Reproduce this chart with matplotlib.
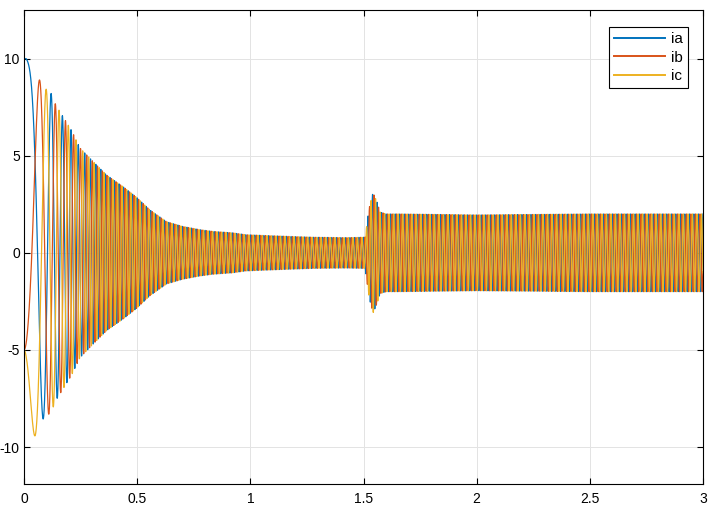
import numpy as np
import matplotlib
matplotlib.use("Agg")
import matplotlib.pyplot as plt

# envelope of the phase currents (time s, peak A)
t_env = [0.0, 0.01, 0.05, 0.08, 0.12, 0.141, 0.21, 0.247, 0.305, 0.365, 0.438,
         0.498, 0.557, 0.63, 0.70, 0.777, 0.835, 0.92, 0.98, 1.13, 1.28, 1.425,
         1.5, 1.507, 1.525, 1.542, 1.56, 1.573, 1.6, 1.65, 2.0, 2.5, 3.0]
amp_env = [10.0, 10.0, 9.4, 8.6, 8.2, 7.6, 6.3, 5.4, 4.7, 4.0, 3.4,
           2.85, 2.2, 1.6, 1.36, 1.19, 1.1, 1.03, 0.93, 0.86, 0.8, 0.78,
           0.8, 0.8, 2.3, 3.1, 2.6, 2.1, 2.0, 2.0, 1.95, 2.0, 2.0]

# supply frequency ramp (time s, Hz)
t_freq = [0.0, 0.36, 3.0]
f_freq = [0.0, 50.0, 50.0]

labels = ["ia", "ib", "ic"]
shifts_deg = [0, -120, 120]
colors = ["#0072BD", "#D95319", "#EDB120"]

t = np.linspace(0, 3, 30001)
dt = t[1] - t[0]
f = np.interp(t, t_freq, f_freq)
theta = 2 * np.pi * np.cumsum(f) * dt
A = np.interp(t, t_env, amp_env)

plt.rcParams['font.family'] = ['Liberation Sans', 'DejaVu Sans']
plt.rcParams['axes.unicode_minus'] = False
fig = plt.figure(figsize=(7.2, 5.3), dpi=100)
ax = fig.add_axes([24 / 720, 1 - 484 / 530, (703 - 24) / 720, (484 - 10) / 530])

for lab, sh, c in zip(labels, shifts_deg, colors):
    ax.plot(t, A * np.cos(theta + np.deg2rad(sh)), color=c, lw=0.9, label=lab)

ax.set_xlim(0, 3)
ax.set_ylim(-11.9, 12.5)
ax.set_xticks(np.arange(0, 3.01, 0.5))
ax.set_xticklabels(["0", "0.5", "1", "1.5", "2", "2.5", "3"])
ax.set_yticks([-10, -5, 0, 5, 10])
ax.grid(True, color="#e3e3e3", lw=0.7)
ax.set_axisbelow(True)
ax.tick_params(direction="in", top=True, right=True, length=4, labelsize=10,
               width=0.8)
ax.tick_params(axis="y", pad=3)
ax.tick_params(axis="x", pad=6)
for s in ax.spines.values():
    s.set_linewidth(0.8)

leg = ax.legend(loc="upper right", bbox_to_anchor=(0.978, 0.965), fancybox=False,
                edgecolor="black", framealpha=1, fontsize=11, handlelength=3.3,
                borderpad=0.35, labelspacing=0.3, handletextpad=0.4,
                borderaxespad=0)
leg.get_frame().set_linewidth(0.8)
for h in leg.get_lines():
    h.set_linewidth(1.4)

fig.savefig("out.png", dpi=100)
